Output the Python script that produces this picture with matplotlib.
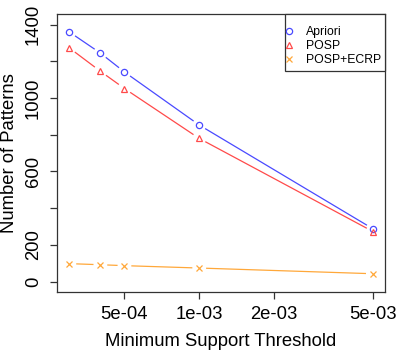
import numpy as np
import matplotlib
matplotlib.use("Agg")
import matplotlib.pyplot as plt
from matplotlib.patches import Rectangle

# minimum support thresholds (log scale) and number of patterns
support = [3e-4, 4e-4, 5e-4, 1e-3, 5e-3]
apriori = [1360, 1245, 1142, 853, 288]
posp = [1273, 1146, 1052, 780, 273]
posp_ecrp = [98, 92, 87, 74, 43]

xticks = [5e-4, 1e-3, 2e-3, 5e-3]
xtick_labels = ["5e-04", "1e-03", "2e-03", "5e-03"]
yticks = [0, 200, 400, 600, 800, 1000, 1200, 1400]
ytick_labels = ["0", "200", "", "600", "", "1000", "", "1400"]

plt.rcParams['font.family'] = ['Liberation Sans', 'DejaVu Sans']

fig = plt.figure(figsize=(4, 3.5), dpi=100)
ax = fig.add_axes([0.143, 0.166, 0.8195, 0.793])
ax.set_xscale('log')

# R style 4% padding around the data range
lx = np.log10([min(support), max(support)])
pad = (lx[1] - lx[0]) * 0.04
ax.set_xlim(10 ** (lx[0] - pad), 10 ** (lx[1] + pad))
ax.set_ylim(-56, 1456)


def type_b(ax, x, y, color, marker, label, gap=7.5):
    # lines with gaps round the points, like R's type="b"
    tr = ax.transData
    pts = tr.transform(np.column_stack([x, y]))
    for p0, p1 in zip(pts[:-1], pts[1:]):
        d = p1 - p0
        n = np.hypot(*d)
        if n <= 2 * gap:
            continue
        u = d / n
        a = tr.inverted().transform(p0 + u * gap)
        b = tr.inverted().transform(p1 - u * gap)
        ax.plot([a[0], b[0]], [a[1], b[1]], color=color, lw=0.9)
    ax.plot(x, y, ls='none', marker=marker, color=color, mfc='none',
            ms=4.5, mew=0.9, label=label)


type_b(ax, support, apriori, '#4a4aff', 'o', 'Apriori')
type_b(ax, support, posp, '#ff4a4a', '^', 'POSP')
type_b(ax, support, posp_ecrp, '#ffa83a', 'x', 'POSP+ECRP')

ax.set_xticks(xticks)
ax.set_xticklabels(xtick_labels)
ax.xaxis.set_minor_locator(matplotlib.ticker.NullLocator())
ax.set_yticks(yticks)
ax.set_yticklabels(ytick_labels, rotation=90, va='center')

ax.tick_params(length=5, width=0.9, color='#333333', labelsize=13.3)
ax.tick_params(axis='x', pad=5)
ax.tick_params(axis='y', pad=6)
for s in ax.spines.values():
    s.set_color('#333333')
    s.set_linewidth(0.9)

ax.set_xlabel('Minimum Support Threshold', fontsize=13.3, va='baseline')
ax.xaxis.set_label_coords(0.5, -0.196)
ax.set_ylabel('Number of Patterns', fontsize=13.3, va='center')
ax.yaxis.set_label_coords(-0.144, 0.5)

# legend box drawn by hand, R legend style
ax.add_patch(Rectangle((0.695, 0.795), 0.305, 0.205, transform=ax.transAxes,
                       fill=True, fc='white', ec='#333333', lw=0.9, zorder=4,
                       clip_on=False))
leg = ax.legend(loc='upper left', bbox_to_anchor=(0.696, 0.957), fontsize=8.8,
                frameon=False, borderaxespad=0, borderpad=0,
                handletextpad=1.1, handlelength=0.6, labelspacing=0.15)
leg.set_zorder(5)

fig.savefig('out.png', dpi=100)
